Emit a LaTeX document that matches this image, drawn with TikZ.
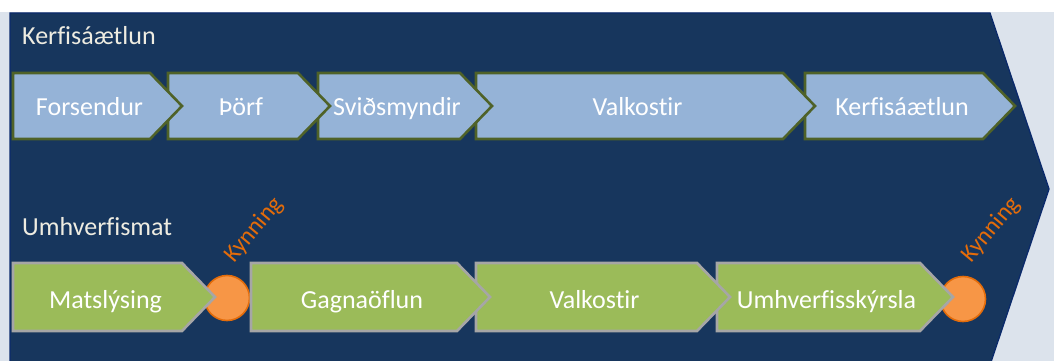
\documentclass[tikz,border=0pt]{standalone}
\usepackage{fontspec}
\setmainfont{Carlito}[Ligatures=NoCommon]
\usetikzlibrary{positioning, calc}
\definecolor{navyfill}{HTML}{17365D}
\definecolor{navyline}{HTML}{0B2A6B}
\definecolor{paleback}{HTML}{DCE3EC}
\definecolor{planblue}{HTML}{95B3D7}
\definecolor{oliveedge}{HTML}{4F6228}
\definecolor{matgreen}{HTML}{9BBB59}
\definecolor{greyedge}{HTML}{A6A6A6}
\definecolor{kynfill}{HTML}{F79646}
\definecolor{kynline}{HTML}{E46C0A}
\definecolor{titletext}{HTML}{EEECE1}

\begin{document}
\begin{tikzpicture}[x=1pt, y=-1pt,
    planbox/.style={fill=planblue, draw=oliveedge, line width=2.6pt},
    matbox/.style={fill=matgreen, draw=greyedge, line width=2.6pt},
    boxlabel/.style={text=white, font=\fontsize{26}{30}\selectfont, anchor=base, inner sep=0pt},
    rowtitle/.style={text=titletext, font=\fontsize{26}{30}\selectfont, anchor=base west, inner sep=0pt},
    kyndot/.style={circle, fill=kynfill, draw=kynline, line width=1.6pt, minimum size=45pt, inner sep=0pt},
    kynlabel/.style={text=kynline, font=\fontsize{24}{28}\selectfont, rotate=50, inner sep=0pt}]
    \useasboundingbox (0,0) rectangle (1054,361);
    \fill[white] (0,0) rectangle (1054,361);
    \fill[paleback] (0,12) rectangle (1054,361);
    % dark arrow behind both rows
    \draw[fill=navyfill, draw=navyline, line width=1.3pt]
        (10,13) -- (990,13) -- (1049,189) -- (990,365) -- (10,365) -- cycle;
    \node[rowtitle] (plantitle) at (22,45) {Kerfisáætlun};
    \node[rowtitle] (mattitle) at (22,235) {Umhverfismat};
    % top row, drawn right to left so each tip lies over the next box
    \foreach \nm/\xa/\xb/\txt in {kerf/805/983/Kerfisáætlun, valk/476/783/Valkostir,
        svid/318/460/Sviðsmyndir, thorf/168/298/Þörf, fors/13/150/Forsendur}
    {
        \draw[planbox] (\xa,73) -- (\xb,73) -- (\xb+32,106) -- (\xb,139) -- (\xa,139) -- cycle;
        \node[boxlabel] (\nm) at ({(\xa+\xb)/2+8},115) {\txt};
    }
    % presentation points
    \node[kyndot] (dotA) at (227,298) {};
    \node[kyndot] (dotB) at (963,299) {};
    % bottom row
    \foreach \nm/\xa/\xb/\txt in {umhv/717/920/Umhverfisskýrsla, valkm/476/697/Valkostir,
        gagn/251/457/Gagnaöflun, mats/13/182/Matslýsing}
    {
        \draw[matbox] (\xa,263) -- (\xb,263) -- (\xb+33,297) -- (\xb,331) -- (\xa,331) -- cycle;
        \node[boxlabel] (\nm) at ({(\xa+\xb)/2+8},308) {\txt};
    }
    \node[kynlabel] (kynA) at (254,230) {Kynning};
    \node[kynlabel] (kynB) at (991,230) {Kynning};
\end{tikzpicture}
\end{document}
